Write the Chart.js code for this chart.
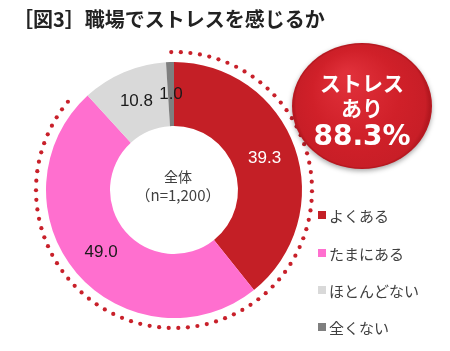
<!DOCTYPE html>
<html><head><meta charset="utf-8">
<script src="https://cdn.jsdelivr.net/npm/chart.js@4/dist/chart.umd.min.js"></script>
<style>html,body{margin:0;padding:0;background:#fff;}canvas{display:block;}</style>
</head><body>
<canvas id="c" width="450" height="351"></canvas>
<script>
const titleText = "［図3］職場でストレスを感じるか";
const categories = ["よくある", "たまにある", "ほとんどない", "全くない"];
const values = [39.3, 49.0, 10.8, 1.0];
const valueLabels = ["39.3", "49.0", "10.8", "1.0"];
const colors = ["#C41F26", "#FF6FCF", "#D9D9D9", "#7F7F7F"];
const labelColors = ["#FFFFFF", "#1A1A1A", "#1A1A1A", "#1A1A1A"];
const centerLines = ["全体", "（n=1,200）"];
const bubbleLines = ["ストレス", "あり", "88.3%"];

const deco = {
  id: 'deco',
  beforeDraw(chart) {
    const ctx = chart.ctx;
    ctx.save();
    ctx.fillStyle = '#fff';
    ctx.fillRect(0, 0, chart.width, chart.height);
    ctx.restore();
  },
  afterDraw(chart) {
    const ctx = chart.ctx;
    const meta = chart.getDatasetMeta(0);
    const a0 = meta.data[0];
    const cx = a0.x, cy = a0.y, R = a0.outerRadius;
    ctx.save();
    // dotted arc around stress part
    const rd = R + 10;
    const endA = a0.startAngle + (values[0] + values[1]) / 100 * Math.PI * 2 - 0.12;
    const startA = a0.startAngle - 0.02;
    const step = 9.6 / rd;
    ctx.fillStyle = '#C8202A';
    for (let a = startA; a <= endA; a += step) {
      ctx.beginPath();
      ctx.arc(cx + rd * Math.cos(a), cy + rd * Math.sin(a), 2.1, 0, Math.PI * 2);
      ctx.fill();
    }
    // value labels
    ctx.font = '17px "Liberation Sans", Arial, sans-serif';
    ctx.textAlign = 'center';
    ctx.textBaseline = 'middle';
    meta.data.forEach((arc, i) => {
      const p = arc.getCenterPoint();
      ctx.fillStyle = labelColors[i];
      ctx.fillText(valueLabels[i], p.x, p.y);
    });
    // center text
    ctx.fillStyle = '#404040';
    ctx.font = '14px "Noto Sans CJK JP", sans-serif';
    ctx.fillText(centerLines[0], cx + 4, cy - 13);
    ctx.font = '15px "Noto Sans CJK JP", sans-serif';
    ctx.fillText(centerLines[1], cx + 4, cy + 5);
    // title
    ctx.textAlign = 'left';
    ctx.fillStyle = '#222';
    ctx.font = 'bold 20px "Noto Sans CJK JP", sans-serif';
    ctx.fillText(titleText, 13, 19);
    // legend
    ctx.font = '15px "Noto Sans CJK JP", sans-serif';
    const ly = [215, 253, 290, 327];
    categories.forEach((c, i) => {
      ctx.fillStyle = colors[i];
      ctx.fillRect(318, ly[i] - 4, 8, 8);
      ctx.fillStyle = '#404040';
      ctx.fillText(c, 329, ly[i] + 1);
    });
    // bubble
    const bx = 362, by = 106, br = 70;
    ctx.save();
    ctx.shadowColor = 'rgba(0,0,0,0.35)';
    ctx.shadowBlur = 5;
    ctx.shadowOffsetY = 2;
    ctx.beginPath();
    ctx.ellipse(bx, by, br, br - 7, 0, 0, Math.PI * 2);
    ctx.fillStyle = '#B81820';
    ctx.fill();
    ctx.restore();
    const g = ctx.createRadialGradient(bx - 15, by - 30, 5, bx, by, br);
    g.addColorStop(0, '#E0303A');
    g.addColorStop(0.6, '#D02029');
    g.addColorStop(0.92, '#C81E27');
    g.addColorStop(1, '#A8141B');
    ctx.beginPath();
    ctx.ellipse(bx, by, br - 1.5, br - 8.5, 0, 0, Math.PI * 2);
    ctx.fillStyle = g;
    ctx.fill();
    ctx.fillStyle = '#fff';
    ctx.textAlign = 'center';
    ctx.font = 'bold 21px "Noto Sans CJK JP", sans-serif';
    ctx.fillText(bubbleLines[0], bx, 83);
    ctx.fillText(bubbleLines[1], bx, 108);
    ctx.font = 'bold 28px "DejaVu Sans", sans-serif';
    ctx.fillText(bubbleLines[2], bx, 138);
    ctx.restore();
  }
};

new Chart(document.getElementById('c'), {
  type: 'doughnut',
  data: {
    labels: categories,
    datasets: [{
      data: values,
      backgroundColor: colors,
      borderWidth: 0,
      hoverOffset: 0
    }]
  },
  options: {
    responsive: false,
    animation: false,
    cutout: '50%',
    layout: { padding: { left: 46, right: 148, top: 62, bottom: 33 } },
    plugins: { legend: { display: false }, tooltip: { enabled: false } },
    events: []
  },
  plugins: [deco]
});
</script>
</body></html>
